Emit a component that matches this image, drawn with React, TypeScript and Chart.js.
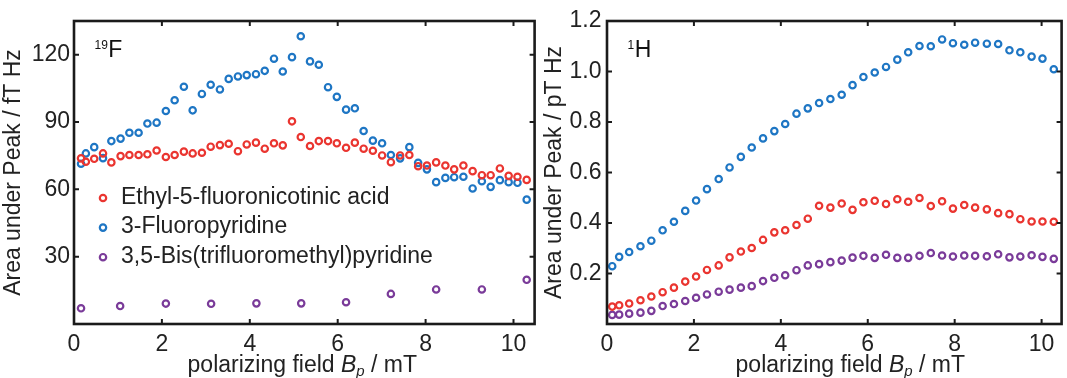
import React, { useEffect, useRef } from 'react';
import { Chart, registerables } from 'chart.js';

Chart.register(...registerables);

const FONT = "'Liberation Sans', Arial, Helvetica, sans-serif";

// ---- 19F panel ----
const xF = [0.16, 0.27, 0.46, 0.66, 0.85, 1.06, 1.26, 1.47, 1.67, 1.88, 2.09, 2.29, 2.5, 2.7, 2.91, 3.11, 3.32, 3.52, 3.73, 3.93, 4.14, 4.34, 4.55, 4.75, 4.96, 5.16, 5.37, 5.57, 5.78, 5.98, 6.19, 6.39, 6.59, 6.8, 7.01, 7.21, 7.42, 7.63, 7.83, 8.03, 8.24, 8.45, 8.65, 8.86, 9.07, 9.28, 9.48, 9.69, 9.89, 10.09, 10.3];
const ethylF = [73.8, 72.3, 73.6, 76.0, 72.0, 74.8, 75.3, 75.3, 75.6, 77.3, 74.4, 75.3, 76.8, 76.0, 76.3, 79.0, 79.7, 80.3, 77.0, 80.0, 80.8, 78.1, 80.5, 79.6, 90.3, 83.3, 79.3, 81.5, 81.5, 80.5, 78.5, 80.8, 78.1, 77.2, 75.1, 72.1, 75.1, 75.3, 70.3, 70.6, 72.0, 70.6, 68.9, 70.6, 68.1, 66.3, 66.3, 69.3, 66.0, 65.6, 64.2];
const fluoroF = [71.4, 76.0, 78.8, 73.9, 81.5, 82.6, 85.2, 85.2, 89.3, 89.7, 94.9, 99.7, 105.7, 95.2, 102.5, 106.6, 104.5, 109.2, 110.3, 110.9, 111.3, 112.8, 118.2, 112.5, 118.9, 128.2, 117.0, 115.5, 105.5, 101.2, 95.5, 96.1, 86.0, 81.7, 80.5, 75.3, 73.8, 78.8, 71.8, 68.9, 63.2, 65.1, 65.4, 65.6, 60.4, 63.6, 61.1, 64.1, 63.2, 62.9, 55.4];
const xBisF = [0.16, 1.05, 2.09, 3.12, 4.15, 5.17, 6.19, 7.21, 8.24, 9.28, 10.3];
const bisF = [7.0, 8.0, 9.1, 9.0, 9.2, 9.2, 9.7, 13.4, 15.4, 15.4, 19.7];

// ---- 1H panel ----
const xH = [0.12, 0.28, 0.51, 0.77, 1.02, 1.28, 1.54, 1.8, 2.05, 2.3, 2.57, 2.82, 3.08, 3.33, 3.59, 3.85, 4.1, 4.36, 4.62, 4.88, 5.14, 5.4, 5.65, 5.9, 6.16, 6.42, 6.68, 6.93, 7.19, 7.45, 7.71, 7.96, 8.22, 8.47, 8.74, 9.0, 9.26, 9.51, 9.77, 10.02, 10.28];
const ethylH = [0.069, 0.074, 0.081, 0.094, 0.109, 0.126, 0.144, 0.168, 0.188, 0.214, 0.232, 0.264, 0.287, 0.301, 0.333, 0.363, 0.371, 0.392, 0.417, 0.468, 0.461, 0.477, 0.452, 0.482, 0.488, 0.475, 0.494, 0.484, 0.499, 0.467, 0.486, 0.457, 0.471, 0.461, 0.454, 0.439, 0.435, 0.415, 0.406, 0.406, 0.405];
const fluoroH = [0.229, 0.266, 0.285, 0.308, 0.33, 0.371, 0.405, 0.448, 0.489, 0.534, 0.574, 0.62, 0.662, 0.699, 0.735, 0.764, 0.792, 0.833, 0.854, 0.875, 0.891, 0.908, 0.946, 0.978, 0.996, 1.018, 1.047, 1.076, 1.101, 1.1, 1.127, 1.112, 1.106, 1.114, 1.11, 1.109, 1.084, 1.076, 1.059, 1.051, 1.009];
const bisH = [0.036, 0.037, 0.041, 0.045, 0.052, 0.071, 0.079, 0.091, 0.104, 0.117, 0.128, 0.136, 0.144, 0.15, 0.17, 0.183, 0.193, 0.213, 0.232, 0.237, 0.245, 0.251, 0.263, 0.27, 0.262, 0.274, 0.262, 0.262, 0.27, 0.281, 0.271, 0.267, 0.271, 0.27, 0.268, 0.276, 0.264, 0.267, 0.272, 0.266, 0.258];

const xTicks = [0, 2, 4, 6, 8, 10];
const yTicksF = [30, 60, 90, 120];
const yTicksH = [0.2, 0.4, 0.6, 0.8, 1.0, 1.2];
const seriesLabels = ['Ethyl-5-fluoronicotinic acid', '3-Fluoropyridine', '3,5-Bis(trifluoromethyl)pyridine'];
const seriesColors = ['#ea3530', '#1e76c4', '#7a3b99'];
const yTitleF = 'Area under Peak / fT Hz';
const yTitleH = 'Area under Peak / pT Hz';

const toPts = (xs: number[], ys: number[]) => xs.map((x, i) => ({ x, y: ys[i] }));

const decorPlugin = {
  id: 'decor',
  afterDraw(chart: any, _args: any, o: any) {
    const { ctx, chartArea: ca, scales } = chart;
    const xs = scales.x;
    const ys = scales.y;
    ctx.save();
    ctx.strokeStyle = '#1b1b1b';
    ctx.lineWidth = 2;
    const TL = 5;
    ctx.beginPath();
    o.xTicks.forEach((v: number) => {
      const p = xs.getPixelForValue(v);
      ctx.moveTo(p, ca.bottom);
      ctx.lineTo(p, ca.bottom - TL);
      ctx.moveTo(p, ca.top);
      ctx.lineTo(p, ca.top + TL);
    });
    o.yTicks.forEach((v: number) => {
      const p = ys.getPixelForValue(v);
      ctx.moveTo(ca.left, p);
      ctx.lineTo(ca.left + TL, p);
      ctx.moveTo(ca.right, p);
      ctx.lineTo(ca.right - TL, p);
    });
    ctx.stroke();
    ctx.lineWidth = 2.6;
    ctx.strokeRect(ca.left, ca.top, ca.right - ca.left, ca.bottom - ca.top);

    // nucleus label
    ctx.fillStyle = '#111';
    ctx.textAlign = 'left';
    ctx.textBaseline = 'alphabetic';
    ctx.font = `12px ${FONT}`;
    const sx = ca.left + 20.5;
    ctx.fillText(o.sup, sx, 48.5);
    const sw = ctx.measureText(o.sup).width;
    ctx.font = `23px ${FONT}`;
    ctx.fillText(o.nuc, sx + sw + 0.5, 57);

    // x title with italic B_p
    const parts = [
      { t: 'polarizing field ', f: `23px ${FONT}`, dy: 0 },
      { t: 'B', f: `italic 23px ${FONT}`, dy: 0 },
      { t: 'p', f: `italic 15px ${FONT}`, dy: 4 },
      { t: ' / mT', f: `23px ${FONT}`, dy: 0 },
    ];
    let total = 0;
    parts.forEach((p) => { ctx.font = p.f; total += ctx.measureText(p.t).width; });
    let px = (ca.left + ca.right) / 2 + o.titleShift - total / 2;
    ctx.fillStyle = '#222';
    parts.forEach((p) => {
      ctx.font = p.f;
      ctx.fillText(p.t, px, 372 + p.dy);
      px += ctx.measureText(p.t).width;
    });

    // legend
    if (o.legend) {
      chart.data.datasets.forEach((ds: any, i: number) => {
        const cy = 198 + i * 29.6;
        ctx.beginPath();
        ctx.lineWidth = 2.2;
        ctx.strokeStyle = ds.borderColor;
        ctx.arc(ca.left + 29, cy, 3.2, 0, Math.PI * 2);
        ctx.stroke();
        ctx.fillStyle = '#222';
        ctx.font = `23px ${FONT}`;
        ctx.fillText(ds.label, ca.left + 47, cy + 5.5);
      });
    }
    ctx.restore();
  },
};

function makeConfig(p: any) {
  const ds = (label: string, color: string, data: any[]) => ({
    label,
    data,
    borderColor: color,
    backgroundColor: 'rgba(0,0,0,0)',
    pointRadius: 3.2,
    pointBorderWidth: 2.2,
    pointHoverRadius: 3.2,
    showLine: false,
  });
  return {
    type: 'scatter',
    data: {
      datasets: [
        ds(seriesLabels[0], seriesColors[0], p.ethyl),
        ds(seriesLabels[1], seriesColors[1], p.fluoro),
        ds(seriesLabels[2], seriesColors[2], p.bis),
      ],
    },
    options: {
      responsive: false,
      animation: false,
      devicePixelRatio: 1,
      layout: { padding: { top: 21, right: p.padRight, bottom: 0, left: 0 } },
      plugins: {
        legend: { display: false },
        tooltip: { enabled: false },
        decor: { xTicks, yTicks: p.yTicks, sup: p.sup, nuc: p.nuc, legend: p.legend, titleShift: p.titleShift },
      },
      scales: {
        x: {
          type: 'linear',
          min: 0,
          max: p.xMax,
          grid: { display: false, drawTicks: false },
          border: { display: false },
          afterBuildTicks: (s: any) => { s.ticks = xTicks.map((v) => ({ value: v })); },
          afterFit: (s: any) => { s.height = 54; },
          ticks: { color: '#222', font: { family: FONT, size: 23 }, padding: 7, maxRotation: 0, callback: (v: number) => String(v) },
        },
        y: {
          type: 'linear',
          min: 0,
          max: p.yMax,
          grid: { display: false, drawTicks: false },
          border: { display: false },
          afterBuildTicks: (s: any) => { s.ticks = p.yTicks.map((v: number) => ({ value: v })); },
          afterFit: (s: any) => { s.width = p.yWidth; },
          ticks: { color: '#222', font: { family: FONT, size: 23 }, padding: p.tickPad, callback: p.fmt },
          title: { display: true, text: p.yTitle, color: '#222', font: { family: FONT, size: 23, lineHeight: 1 }, padding: { top: p.titlePad, bottom: 0 } },
        },
      },
    },
    plugins: [decorPlugin],
  };
}

function Panel(props: { cfg: any; width: number; left: number }) {
  const ref = useRef<HTMLCanvasElement>(null);
  useEffect(() => {
    if (!ref.current) return;
    const chart = new Chart(ref.current, props.cfg);
    return () => chart.destroy();
  }, []);
  return (
    <canvas
      ref={ref}
      width={props.width}
      height={378}
      style={{ position: 'absolute', left: props.left, top: 0, width: props.width, height: 378 }}
    />
  );
}

export default function App() {
  const cfgF = makeConfig({
    ethyl: toPts(xF, ethylF),
    fluoro: toPts(xF, fluoroF),
    bis: toPts(xBisF, bisF),
    yTicks: yTicksF,
    yMax: 135,
    xMax: 10.48,
    padRight: 5,
    yWidth: 74,
    tickPad: 4,
    titlePad: 2,
    yTitle: yTitleF,
    sup: '19',
    nuc: 'F',
    legend: true,
    titleShift: -2,
    fmt: (v: number) => String(v),
  });
  const cfgH = makeConfig({
    ethyl: toPts(xH, ethylH),
    fluoro: toPts(xH, fluoroH),
    bis: toPts(xH, bisH),
    yTicks: yTicksH,
    yMax: 1.2,
    xMax: 10.46,
    padRight: 1,
    yWidth: 67,
    tickPad: 5.5,
    titlePad: 3,
    yTitle: yTitleH,
    sup: '1',
    nuc: 'H',
    legend: false,
    titleShift: 16,
    fmt: (v: number) => v.toFixed(1),
  });
  return (
    <div style={{ position: 'fixed', left: 0, top: 0, width: 1067, height: 378, background: '#fff' }}>
      <Panel cfg={cfgF} width={540} left={0} />
      <Panel cfg={cfgH} width={527} left={540} />
    </div>
  );
}
